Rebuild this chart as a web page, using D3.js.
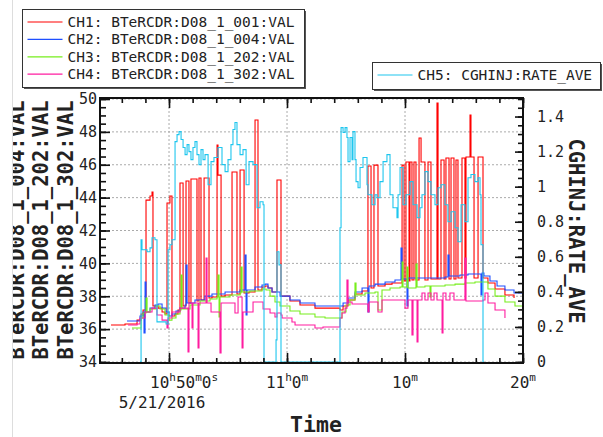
<!DOCTYPE html>
<html>
<head>
<meta charset="utf-8">
<script src="https://cdn.jsdelivr.net/npm/d3@7"></script>
<style>
body { margin: 0; background: #fff; }
text { font-family: "DejaVu Sans Mono", monospace; fill: #222; }
.grid line { stroke: #aaa; stroke-dasharray: 2,2; stroke-width: 1; }
.axis line { stroke: #111; stroke-width: 1.6; }
.axis path { display: none; }
.axis text { font-size: 15px; fill: #222; }
.line { fill: none; stroke-width: 1.1; }
</style>
</head>
<body>
<script>
// minutes after 10:00 on 5/21/2016, value
var ch1 = [[45.08,36.25],[46.27,36.31],[47.29,36.55],[47.63,36.92],[47.80,37.16],[48.05,43.85],[48.39,44.10],[48.56,44.34],[48.64,37.41],[49.07,37.28],[49.41,37.04],[49.66,36.92],[49.83,43.67],[50.08,44.10],[50.25,36.80],[50.51,36.92],[50.76,37.16],[50.93,44.89],[51.19,37.41],[51.44,45.01],[51.69,37.59],[51.86,45.13],[52.37,37.71],[52.54,45.19],[52.71,37.77],[52.97,45.19],[53.39,37.89],[53.64,37.95],[54.07,47.20],[54.15,45.37],[54.41,38.01],[54.75,38.08],[55.34,45.56],[55.76,38.14],[56.02,45.68],[56.36,38.20],[56.78,38.26],[57.29,48.72],[57.54,38.38],[57.88,38.56],[58.14,38.62],[58.39,38.50],[58.73,38.26],[59.15,45.07],[59.49,38.01],[60.25,37.71],[61.10,37.47],[62.37,37.28],[64.49,37.16],[64.75,37.41],[65.17,37.77],[65.76,38.14],[66.36,38.32],[66.86,45.92],[67.12,38.50],[67.37,45.98],[67.71,38.62],[68.31,38.74],[68.90,38.81],[69.75,45.98],[69.92,38.93],[70.08,46.17],[70.34,38.93],[70.42,46.17],[70.59,38.99],[70.76,46.17],[70.93,38.99],[71.19,47.63],[71.36,46.17],[71.69,38.99],[71.95,46.17],[72.20,39.05],[72.71,49.75],[72.80,39.05],[73.05,46.29],[73.31,39.05],[73.47,46.41],[73.73,39.05],[73.90,46.41],[74.15,39.05],[74.32,46.29],[74.49,39.11],[74.83,46.41],[75.08,39.11],[75.17,46.47],[75.51,49.02],[75.59,46.47],[75.85,39.11],[76.19,46.47],[76.61,39.11],[77.03,38.81],[77.63,38.44],[78.47,38.08],[79.24,37.89]];

var ch2 = [[46.44,36.49],[47.29,36.49],[47.54,36.80],[47.80,37.04],[47.88,35.76],[47.97,38.87],[48.05,37.04],[48.39,37.28],[48.81,37.47],[49.07,37.53],[49.41,37.28],[49.75,37.04],[50.00,36.80],[50.25,36.92],[50.59,37.10],[50.93,37.28],[51.36,37.47],[51.44,39.90],[51.53,37.59],[52.20,37.77],[53.05,38.01],[53.64,38.14],[54.75,38.26],[56.02,38.38],[56.44,40.51],[56.53,36.86],[56.61,38.38],[57.29,38.56],[57.88,38.68],[58.14,38.74],[58.39,38.50],[58.73,38.26],[59.41,38.01],[60.25,37.77],[61.10,37.59],[62.37,37.41],[64.49,37.41],[64.75,37.59],[65.17,37.89],[65.76,38.26],[66.36,38.50],[66.86,37.04],[66.95,38.62],[67.46,38.74],[68.31,38.87],[69.15,38.99],[69.66,40.93],[69.75,39.05],[70.17,37.41],[70.25,39.11],[71.27,39.11],[73.39,39.17],[73.64,40.51],[73.73,39.23],[74.66,39.29],[75.34,39.35],[76.44,38.08],[76.53,39.41],[76.69,39.23],[77.20,38.93],[77.80,38.62],[78.47,38.38],[79.24,38.20],[80.00,38.14]];

var ch3 = [[46.86,36.07],[47.37,36.07],[47.63,36.68],[47.80,36.98],[48.05,37.89],[48.14,37.04],[48.39,37.22],[48.90,37.41],[49.24,37.22],[49.66,36.86],[50.00,36.55],[50.25,36.68],[50.59,36.92],[50.93,37.16],[51.02,39.29],[51.10,37.22],[51.78,37.47],[52.63,37.71],[53.47,37.83],[54.07,37.95],[54.15,39.29],[54.24,36.74],[54.32,37.95],[55.17,38.08],[56.02,38.20],[56.10,39.78],[56.19,38.26],[56.86,38.32],[57.88,38.44],[58.22,38.38],[58.56,38.01],[58.98,37.65],[59.41,37.41],[60.25,37.10],[61.10,36.92],[62.37,36.74],[63.22,36.68],[64.49,36.68],[64.66,37.04],[65.00,37.47],[65.34,37.77],[65.76,38.81],[65.85,38.08],[66.61,38.20],[67.46,38.26],[67.71,37.16],[68.05,38.38],[68.73,38.50],[69.58,38.56],[69.75,40.08],[69.83,38.56],[70.17,39.78],[70.25,38.50],[70.93,39.96],[71.02,38.56],[71.69,38.62],[72.12,37.95],[72.20,38.62],[73.39,38.68],[74.24,38.74],[75.08,38.81],[75.93,38.87],[76.61,38.87],[77.03,38.44],[77.63,38.01],[78.47,37.65],[79.32,37.41],[80.00,37.28]];

var ch4 = [[46.53,36.25],[47.29,36.31],[47.54,36.68],[47.97,37.04],[48.56,37.28],[48.98,36.86],[49.41,36.55],[49.83,36.07],[49.92,36.68],[50.25,37.04],[50.93,37.28],[51.61,34.61],[51.69,37.59],[51.95,36.07],[52.03,37.59],[52.46,34.85],[52.54,37.59],[53.14,40.33],[53.22,37.59],[53.56,37.04],[54.32,34.55],[54.41,37.59],[55.59,36.98],[55.85,37.95],[56.19,34.85],[56.27,37.04],[57.12,37.65],[57.97,37.22],[58.56,36.98],[58.98,36.74],[59.15,36.98],[59.49,36.86],[59.58,36.68],[60.42,36.43],[60.68,36.25],[62.37,36.07],[63.05,36.13],[64.49,36.68],[64.66,36.98],[64.92,37.28],[65.08,38.99],[65.17,37.65],[65.51,37.53],[66.36,37.53],[66.86,37.04],[66.95,37.65],[67.71,37.04],[68.05,37.77],[69.75,37.77],[70.00,37.28],[70.25,37.77],[70.59,35.64],[70.68,37.77],[71.02,35.22],[71.10,37.77],[71.44,38.20],[71.69,37.77],[71.95,38.20],[72.20,37.77],[72.46,38.20],[72.71,37.77],[73.14,35.76],[73.22,38.20],[73.47,37.77],[73.81,38.20],[74.15,37.77],[75.08,40.33],[75.17,37.71],[76.61,37.77],[76.78,38.20],[77.03,37.59],[77.63,37.16],[78.47,36.68]];

var ch5 = [[47.54,0],[47.63,0.697],[47.71,0.64],[48.14,0.629],[48.39,0.651],[48.56,0.709],[48.81,0.697],[48.98,0.229],[49.75,0.217],[49.92,0.64],[50.08,0.669],[50.25,0.697],[50.51,1.257],[50.68,1.297],[50.85,1.314],[51.02,1.269],[51.19,1.223],[51.36,1.183],[51.53,1.24],[51.69,1.2],[51.86,1.154],[52.03,1.223],[52.20,1.257],[52.37,1.183],[52.54,1.126],[52.71,1.211],[52.88,1.154],[53.05,1.183],[53.31,1.011],[53.56,1.143],[53.81,1.166],[54.15,1.223],[54.49,1.126],[54.75,1.086],[55.00,1.154],[55.25,1.24],[55.42,1.326],[55.59,1.366],[55.76,1.24],[56.02,1.183],[56.27,1.211],[56.53,1.011],[56.78,1.143],[57.12,1.126],[57.46,0.88],[57.71,0.914],[57.97,0.897],[58.05,0],[59.07,0.126],[59.15,0.629],[59.32,0.554],[59.49,0],[64.49,0.766],[64.58,1.337],[64.75,1.309],[64.92,1.337],[65.08,1.28],[65.17,1.143],[65.34,1.28],[65.51,1.154],[65.59,1.314],[65.76,1.154],[65.85,1.029],[66.02,0.994],[66.19,1.109],[66.44,1.166],[66.78,1.011],[66.86,0.954],[67.20,0.897],[67.46,0.954],[67.63,0.937],[67.88,1.029],[68.14,1.143],[68.47,1.183],[68.73,0.954],[68.98,0.88],[69.32,0.823],[69.41,0.954],[69.58,1.109],[69.83,0.897],[70.08,0.954],[70.42,1.029],[70.68,0.897],[71.02,0.823],[71.27,0.88],[71.44,0.954],[71.69,1.086],[71.95,1.029],[72.20,0.954],[72.54,0.897],[72.80,0.994],[73.05,1.011],[73.39,0.897],[73.64,0.8],[73.90,0.857],[74.24,0.766],[74.49,0.686],[74.75,0.897],[75.08,0.8],[75.34,1.051],[75.59,1.069],[75.93,1.029],[76.19,1.051],[76.36,0.954],[76.44,0.669],[76.61,0],[76.69,0]];

var names = ["CH1: BTeRCDR:D08_1_001:VAL", "CH2: BTeRCDR:D08_1_004:VAL", "CH3: BTeRCDR:D08_1_202:VAL", "CH4: BTeRCDR:D08_1_302:VAL", "CH5: CGHINJ:RATE_AVE"];
var colors = ["#ff0000", "#1f4fff", "#77ee1c", "#ff1ca0", "#1ec6ee"];
var leftTitles = ["BTeRCDR:D08_1_001:VAL", "BTeRCDR:D08_1_004:VAL", "BTeRCDR:D08_1_202:VAL", "BTeRCDR:D08_1_302:VAL"];
var rightTitle = "CGHINJ:RATE_AVE";
var timeTickMins = [50, 60, 70, 80];
var timeTickLabels = ["10h50m0s", "11h0m", "10m", "20m"];
var dateLabel = "5/21/2016";

var base = new Date(2016, 4, 21, 10, 0, 0);
function toTime(m) { return new Date(base.getTime() + m * 60000); }

// plot box in pixels
var pL = 100, pR = 523, pT = 99, pB = 362;

var x = d3.scaleTime().domain([toTime(44.15), toTime(80)]).range([pL, pR]);
var yL = d3.scaleLinear().domain([34, 50]).range([pB, pT]);
var yR = d3.scaleLinear().domain([0, 1.5]).range([pB, pT]);

var svg = d3.select("body").append("svg")
    .attr("width", 603).attr("height", 437);

// window edge
svg.append("line").attr("x1", 12.5).attr("x2", 12.5).attr("y1", 0).attr("y2", 437)
    .attr("stroke", "#ddd");

// grid
var grid = svg.append("g").attr("class", "grid");
grid.selectAll(".h").data(d3.range(34, 51, 2)).enter().append("line")
    .attr("x1", pL).attr("x2", pR)
    .attr("y1", function(d) { return yL(d); }).attr("y2", function(d) { return yL(d); });
grid.selectAll(".v").data(timeTickMins).enter().append("line")
    .attr("x1", function(d) { return x(toTime(d)); }).attr("x2", function(d) { return x(toTime(d)); })
    .attr("y1", pT).attr("y2", pB);

// data lines
svg.append("clipPath").attr("id", "plot").append("rect")
    .attr("x", pL).attr("y", pT - 3).attr("width", pR - pL).attr("height", pB - pT + 4);

var lineL = d3.line().curve(d3.curveStepAfter)
    .x(function(d) { return x(toTime(d[0])); })
    .y(function(d) { return yL(d[1]); });
var lineR = d3.line().curve(d3.curveStepAfter)
    .x(function(d) { return x(toTime(d[0])); })
    .y(function(d) { return yR(d[1]); });

var plot = svg.append("g").attr("clip-path", "url(#plot)");
[ch1, ch2, ch3, ch4].forEach(function(s, i) {
  plot.append("path").datum(s).attr("class", "line")
      .attr("stroke", colors[i]).attr("d", lineL);
});
plot.append("path").datum(ch5).attr("class", "line")
    .attr("stroke", colors[4]).attr("d", lineR);

// axes
var minorL = d3.range(34, 50.01, 0.5), minorR = d3.range(0, 1.501, 0.05);
var minorT = d3.range(46, 80.01, 2).map(toTime);
var majorT = timeTickMins.map(toTime);

svg.append("g").attr("class", "axis").attr("transform", "translate(" + pL + ",0)")
    .call(d3.axisLeft(yL).tickValues(minorL).tickSize(-6).tickFormat(""));
svg.append("g").attr("class", "axis").attr("transform", "translate(" + pL + ",0)")
    .call(d3.axisLeft(yL).tickValues(d3.range(34, 51, 2)).tickSize(-10).tickPadding(3));
svg.append("g").attr("class", "axis").attr("transform", "translate(" + pR + ",0)")
    .call(d3.axisRight(yR).tickValues(minorR).tickSize(-5).tickFormat(""));
svg.append("g").attr("class", "axis").attr("transform", "translate(" + pR + ",0)")
    .call(d3.axisRight(yR).tickValues([0, 0.2, 0.4, 0.6, 0.8, 1, 1.2, 1.4]).tickSize(-8).tickPadding(14)
      .tickFormat(function(d) { return d3.format("~g")(d); }))
    .selectAll("text").attr("text-anchor", "start");
svg.append("g").attr("class", "axis").attr("transform", "translate(0," + (pB + 1) + ")")
    .call(d3.axisBottom(x).tickValues(minorT).tickSize(-5).tickFormat(""));
svg.append("g").attr("class", "axis").attr("transform", "translate(0," + (pB + 1) + ")")
    .call(d3.axisBottom(x).tickValues(majorT).tickSize(-10).tickFormat(""));
svg.append("g").attr("class", "axis").attr("transform", "translate(0," + (pT - 1) + ")")
    .call(d3.axisTop(x).tickValues(minorT).tickSize(-5).tickFormat(""));
svg.append("g").attr("class", "axis").attr("transform", "translate(0," + (pT - 1) + ")")
    .call(d3.axisTop(x).tickValues(majorT).tickSize(-10).tickFormat(""));

// frame
svg.append("rect").attr("x", pL).attr("y", pT - 1).attr("width", pR - pL).attr("height", pB - pT + 2)
    .attr("fill", "none").attr("stroke", "#111").attr("stroke-width", 2);

// time labels with superscript units
timeTickLabels.forEach(function(lab, i) {
  var t = svg.append("text").attr("y", 388).attr("text-anchor", "middle")
      .attr("x", x(toTime(timeTickMins[i])) + (i === 0 ? 15 : 0))
      .style("font-size", "16px");
  var parts = lab.match(/\d+[hms]/g);
  parts.forEach(function(p, j) {
    t.append("tspan").text(p.slice(0, -1)).attr("dy", j === 0 ? 0 : 7).style("font-size", "16px");
    t.append("tspan").text(p.slice(-1)).attr("dy", -7).style("font-size", "11px");
  });
});
svg.append("text").attr("x", x(toTime(50)) - 7).attr("y", 408).attr("text-anchor", "middle")
    .style("font-size", "16px").text(dateLabel);
svg.append("text").attr("x", 316).attr("y", 432).attr("text-anchor", "middle")
    .style("font-size", "21.5px").style("font-weight", "bold").text("Time");

// axis titles
svg.append("clipPath").attr("id", "ltitle").append("rect")
    .attr("x", 13).attr("y", 0).attr("width", 87).attr("height", 437);
var lt = svg.append("g").attr("clip-path", "url(#ltitle)");
leftTitles.forEach(function(s, i) {
  var bx = -1 + i * 24.5;
  lt.append("text").attr("transform", "translate(" + bx + ",230) rotate(-90)")
      .attr("text-anchor", "middle").style("font-size", "20.5px").style("font-weight", "bold")
      .text(s);
});
svg.append("text").attr("transform", "translate(569,231) rotate(90)")
    .attr("text-anchor", "middle").style("font-size", "20.5px").style("font-weight", "bold")
    .text(rightTitle);

// legends
function legend(x0, y0, w, h, idx) {
  var g = svg.append("g");
  g.append("rect").attr("x", x0 + 1.5).attr("y", y0 + 1.5).attr("width", w).attr("height", h).attr("fill", "#555");
  g.append("rect").attr("x", x0).attr("y", y0).attr("width", w).attr("height", h)
      .attr("fill", "#fff").attr("stroke", "#333").attr("stroke-width", 1);
  idx.forEach(function(k, j) {
    var yy = y0 + 12.5 + j * 17.4;
    g.append("line").attr("x1", x0 + 5).attr("x2", x0 + 40).attr("y1", yy).attr("y2", yy)
        .attr("stroke", colors[k]).attr("stroke-width", 1.2);
    g.append("text").attr("x", x0 + 45).attr("y", yy + 5).style("font-size", "14.5px").text(names[k]);
  });
}
legend(22.5, 9.5, 282, 78, [0, 1, 2, 3]);
legend(372.5, 62.5, 228, 27, [4]);
</script>
</body>
</html>
